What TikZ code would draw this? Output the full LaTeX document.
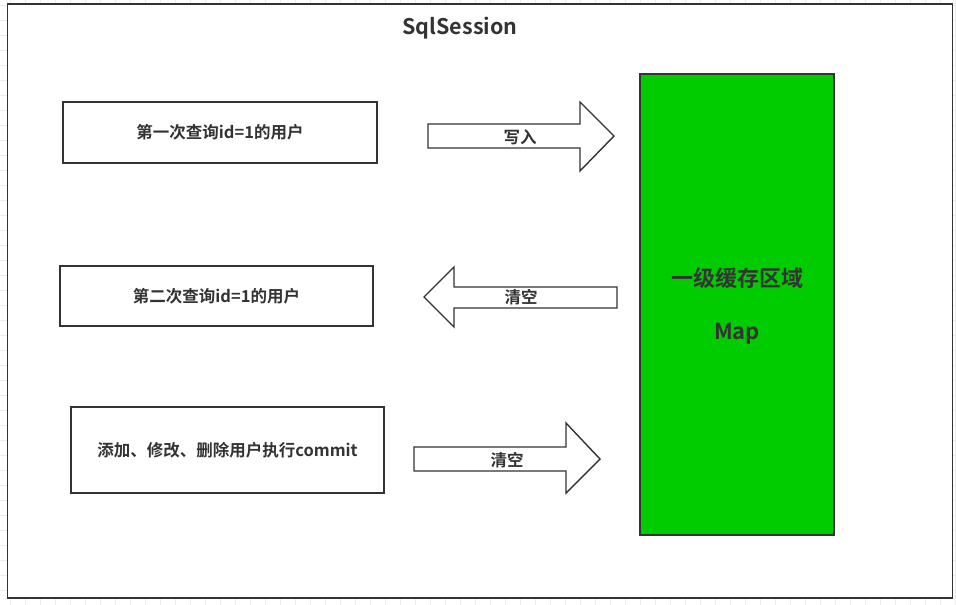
\documentclass[tikz,border=0pt]{standalone}
\usepackage{fontspec}
\setmainfont{Noto Sans CJK SC}[BoldFont={Noto Sans CJK SC Bold}]
\definecolor{ink}{HTML}{333333}
\definecolor{gridc}{HTML}{ECECEC}
\definecolor{cache}{HTML}{00CC00}
\tikzset{
  box/.style={draw=ink,line width=1.6pt,fill=white,text=ink,font=\fontsize{16.5}{18}\selectfont\bfseries,inner sep=0pt},
  blockarrow/.style={draw=ink,line width=1.4pt,fill=white,line join=miter},
  lbl/.style={text=ink,font=\fontsize{16.5}{18}\selectfont\bfseries,inner sep=0pt},
}
\begin{document}
\begin{tikzpicture}[x=1pt,y=-1pt]
\useasboundingbox (0,0) rectangle (956,605);
% background grid
\foreach \i in {0,...,63} {\draw[gridc,line width=0.8pt] (10.7+15*\i,0) -- (10.7+15*\i,605);}
\foreach \j in {0,...,40} {\draw[gridc,line width=0.8pt] (0,5.7+15*\j) -- (956,5.7+15*\j);}
% outer frame
\node[draw=ink,line width=1.8pt,fill=white,minimum width=945pt,minimum height=594pt,inner sep=0pt] (frame) at (480,301) {};
\node[text=ink,font=\fontsize{21.5}{24}\selectfont\bfseries,inner sep=0pt] (title) at (460,28) {SqlSession};
% left boxes
\node[box,minimum width=314pt,minimum height=61pt] (q1) at (220,132.5) {第一次查询id=1的用户};
\node[box,minimum width=313pt,minimum height=60pt] (q2) at (216.5,296) {第二次查询id=1的用户};
\node[box,minimum width=313pt,minimum height=86pt] (q3) at (227.5,450) {添加、修改、删除用户执行commit};
% cache
\node[draw=ink,line width=1.6pt,fill=cache,minimum width=194pt,minimum height=461pt,inner sep=0pt] (cache) at (737,304.5) {};
\node[text=ink,font=\fontsize{22}{25}\selectfont\bfseries,inner sep=0pt] (cachename) at (737,278) {一级缓存区域};
\node[text=ink,font=\fontsize{22}{25}\selectfont\bfseries,inner sep=0pt] (map) at (737,334) {Map};
% block arrows
\draw[blockarrow] (428,124) -- (580,124) -- (580,102) -- (614,136) -- (580,171) -- (580,148) -- (428,148) -- cycle;
\node[lbl] (a1) at (520,137) {写入};
\draw[blockarrow] (617,287) -- (454,287) -- (454,267) -- (424,297) -- (454,327) -- (454,308) -- (617,308) -- cycle;
\node[lbl] (a2) at (521,297) {清空};
\draw[blockarrow] (414,447) -- (566,447) -- (566,423) -- (600,459) -- (566,493) -- (566,471) -- (414,471) -- cycle;
\node[lbl] (a3) at (507,460) {清空};
\end{tikzpicture}
\end{document}
